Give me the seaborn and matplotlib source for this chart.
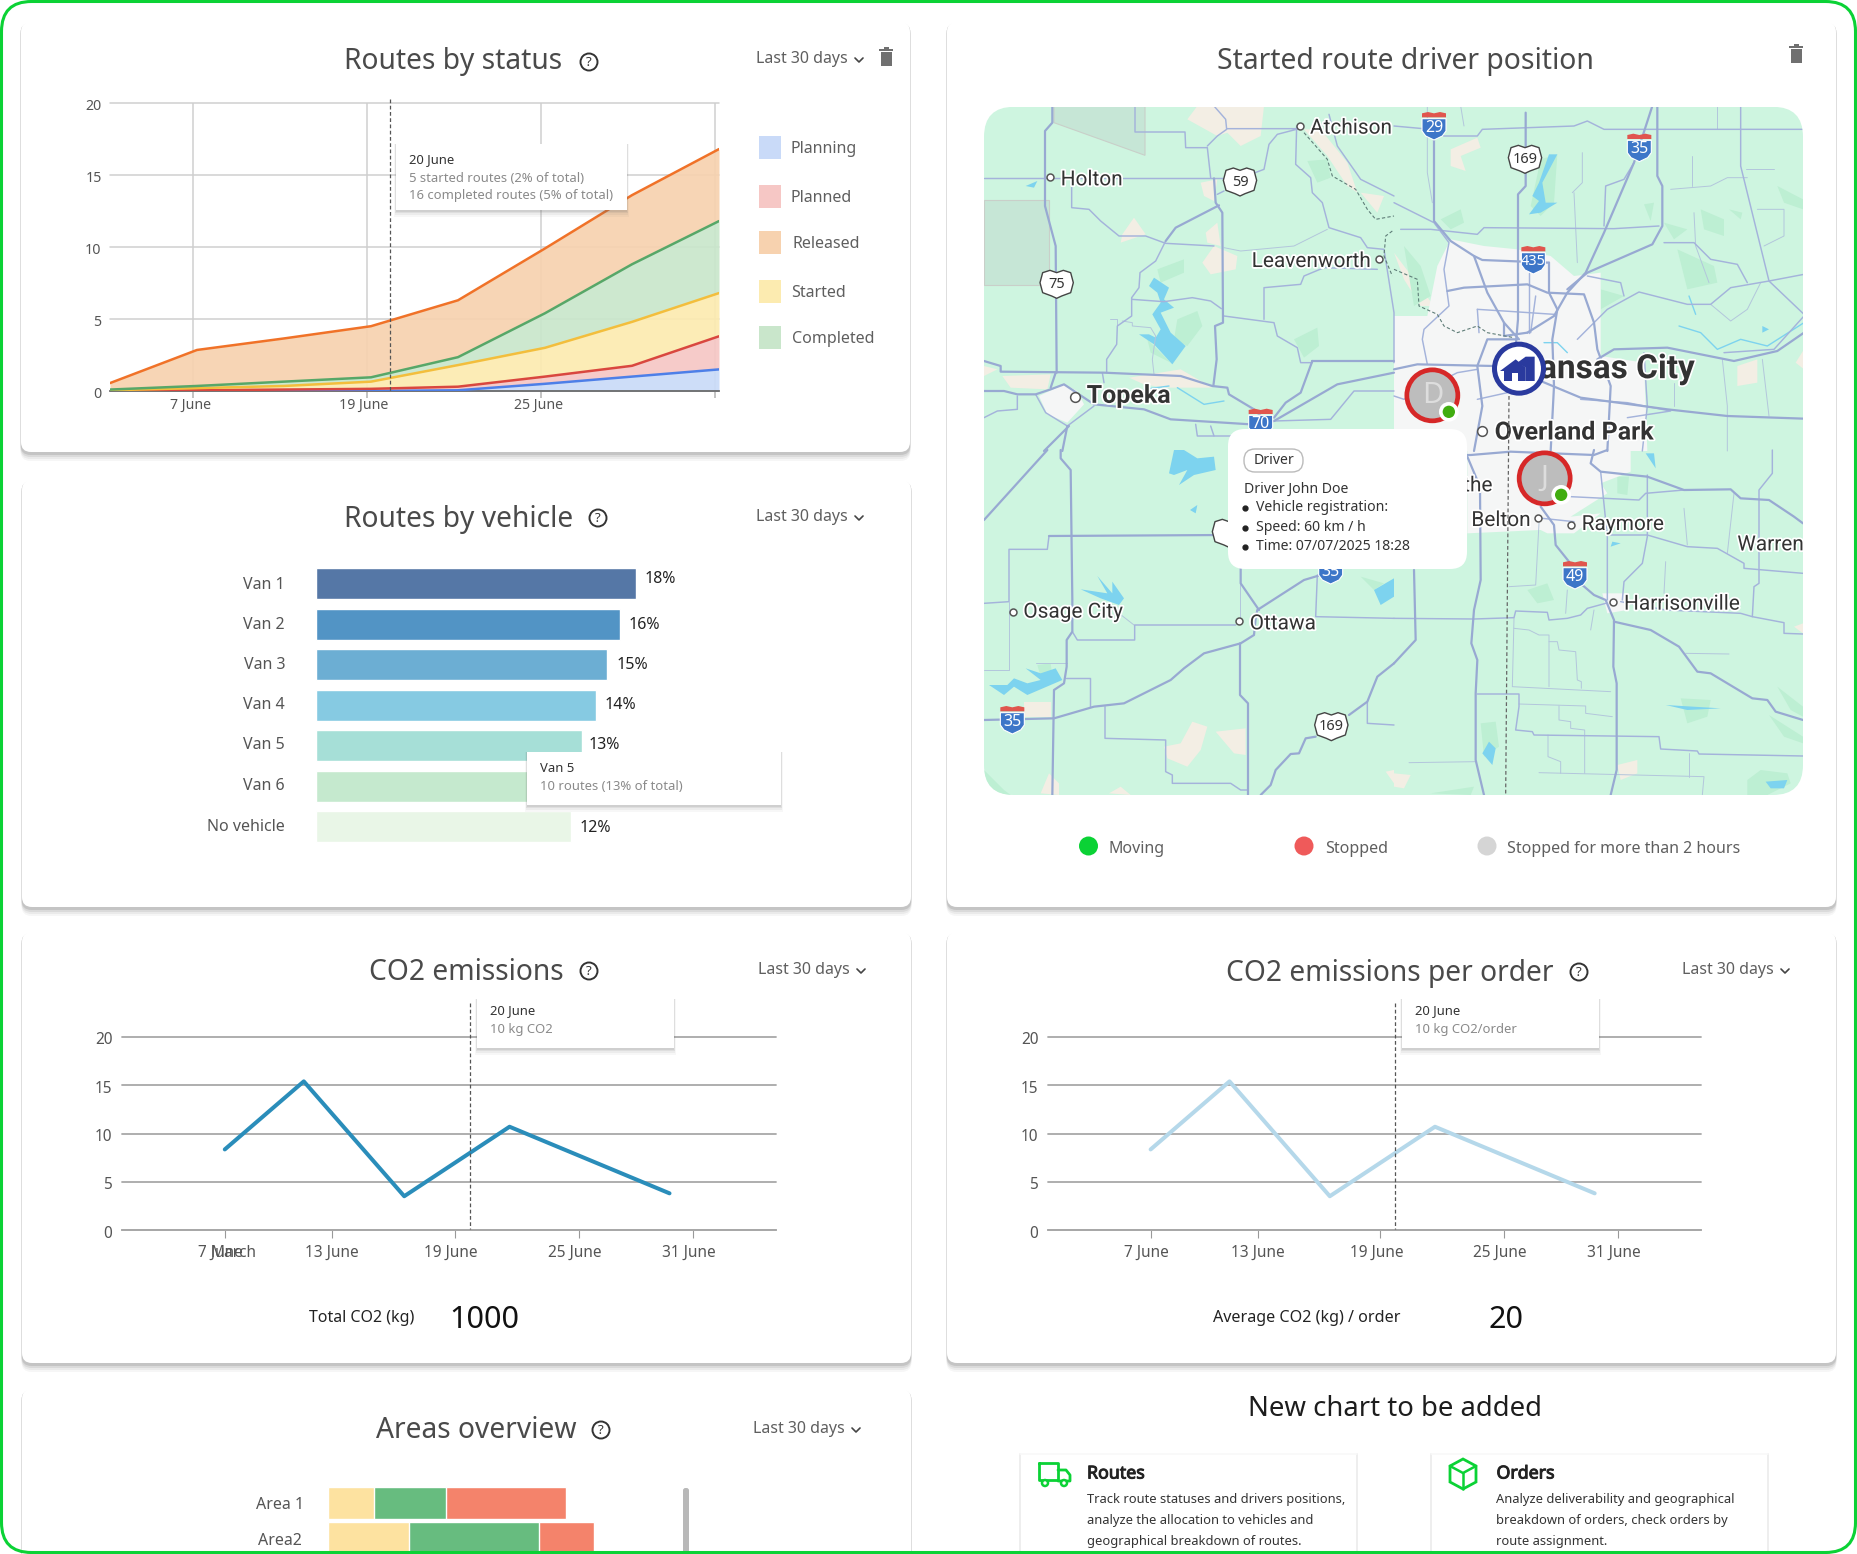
import matplotlib
matplotlib.use("Agg")
import matplotlib.pyplot as plt
import matplotlib.patheffects as pe
from matplotlib.patches import FancyBboxPatch, Circle, Polygon, Rectangle
from matplotlib.transforms import ScaledTranslation
import seaborn as sns

W, H = 1857, 1554

# ---------- data ----------
status_x = [0, 1, 2, 3, 4, 5, 6, 7]
status_ticks = [0.95, 2.95, 4.95, 6.95]
status_ticklabels = ["7 June", "19 June", "25 June", ""]
planning_top = [0, 0, 0, 0, 0.05, 0.5, 1.0, 1.5]
planned_top = [0, 0.05, 0.1, 0.15, 0.3, 1.0, 1.75, 3.8]
started_top = [0.05, 0.2, 0.35, 0.65, 1.8, 3.0, 4.8, 6.8]
completed_top = [0.1, 0.35, 0.65, 0.95, 2.35, 5.4, 8.8, 11.8]
released_top = [0.55, 2.85, 3.65, 4.5, 6.3, 9.9, 13.6, 16.8]
status_names = ["Planning", "Planned", "Released", "Started", "Completed"]

vehicles = ["Van 1", "Van 2", "Van 3", "Van 4", "Van 5", "Van 6", "No vehicle"]
vehicle_lengths = [18, 17.1, 16.4, 15.75, 15.0, 14.7, 14.35]
vehicle_labels = ["18%", "16%", "15%", "14%", "13%", "", "12%"]
vehicle_colors = ["#5577A6", "#5294C5", "#6CAED3", "#86CAE2", "#A6DFD7", "#C5E9CE", "#E9F6E7"]

co2_days = [7, 11.05, 16.2, 21.6, 29.8]
co2_values = [8.35, 15.4, 3.5, 10.7, 3.8]
co2_tick_days = [7, 12.5, 18.8, 25.15, 31]
co2_tick_labels = ["7 June", "13 June", "19 June", "25 June", "31 June"]

areas = ["Area 1", "Area2"]
area_yellow = [23, 40.5]
area_green = [36, 65]
area_red = [60, 27.5]

# ---------- map features, per quadrant of the map ----------
Q_ORIGIN = {1: (984, 106), 2: (1394, 106), 3: (984, 450), 4: (1394, 450)}
major_roads = {
    1: [[(205, 0), (205, 50), (183, 75), (183, 300), (215, 420), (218, 800)],
        [(690, 217), (695, 290), (715, 320), (717, 650), (693, 660), (698, 760), (688, 840)],
        [(545, 405), (575, 365), (705, 298)], [(985, 765), (1230, 765)], [(985, 765), (950, 860), (905, 890), (870, 935)],
        [(0, 765), (50, 780), (50, 797), (360, 800), (590, 810), (685, 840), (730, 845), (735, 865), (810, 910), (835, 935)],
        [(0, 855), (60, 855), (100, 865), (155, 865), (200, 850), (240, 835), (270, 855), (330, 895), (480, 910), (560, 940), (800, 955), (870, 945), (1060, 835), (1230, 800)],
        [(255, 960), (180, 1035)], [(215, 800), (200, 845)], [(250, 960), (235, 1035)]],
    2: [[(120, 90), (120, 345), (170, 405), (240, 450), (265, 462), (465, 470)], [(395, 20), (395, 240), (372, 265), (372, 640), (365, 720)],
        [(775, 0), (720, 170), (630, 380), (575, 500), (520, 560), (480, 630), (400, 680)],
        [(790, 0), (790, 210), (805, 240), (805, 360), (775, 415), (580, 500), (520, 550)],
        [(160, 555), (210, 545), (400, 535), (460, 560), (570, 565), (600, 650), (610, 730), (650, 840), (640, 1035)],
        [(240, 450), (280, 560), (330, 650), (375, 700)], [(465, 470), (465, 560), (490, 610), (475, 700), (480, 840), (470, 1035)],
        [(370, 700), (280, 700), (250, 780), (265, 900), (240, 1035)], [(330, 650), (330, 690), (400, 680)], [(0, 790), (70, 775), (300, 780)],
        [(440, 825), (560, 875), (820, 910), (1000, 930), (1230, 938)], [(610, 760), (660, 730), (820, 725), (1020, 765), (1150, 735), (1230, 680)]],
    3: [[(230, 0), (230, 25), (260, 60), (265, 450), (265, 545), (248, 570), (248, 650), (240, 700), (210, 720), (205, 1035)],
        [(190, 0), (0, 210)], [(195, 258), (720, 255)],
        [(0, 810), (210, 805), (330, 770), (420, 760), (560, 690), (600, 655), (660, 610), (770, 580), (810, 555), (815, 505), (820, 480), (960, 390), (1010, 375)],
        [(770, 350), (770, 400), (825, 480)], [(768, 580), (768, 735), (792, 760), (792, 1035)],
        [(1230, 640), (1180, 680), (1150, 755), (1095, 795)], [(995, 860), (965, 865), (945, 910), (920, 912), (875, 960), (860, 1005), (830, 1035)]],
    4: [[(220, 20), (258, 110), (260, 390), (240, 480), (232, 580), (250, 630), (245, 730), (245, 930), (270, 1035)],
        [(60, 360), (65, 570), (0, 640)], [(600, 0), (590, 40), (620, 65), (760, 80), (870, 120), (1010, 118), (1040, 145), (1125, 150), (1200, 200), (1227, 220)],
        [(0, 15), (230, 15), (350, 5), (600, 15), (640, 0)], [(440, 170), (480, 225), (485, 285), (525, 335)],
        [(565, 405), (600, 435), (635, 450), (660, 510), (658, 650), (668, 700), (668, 960), (650, 1035)],
        [(660, 515), (770, 540), (855, 590), (910, 665), (950, 670), (1075, 745), (1120, 750), (1145, 785), (1227, 810)]],
}
minor_roads = {
    1: [[(0, 217), (720, 217)], [(263, 220), (263, 305), (315, 310), (350, 345), (405, 390), (485, 390), (545, 412), (690, 420)],
        [(453, 0), (453, 78), (603, 78), (605, 125), (670, 125), (680, 215)], [(690, 0), (725, 40), (728, 70), (700, 90), (670, 120)],
        [(730, 68), (945, 68), (880, 85), (855, 115), (840, 190), (800, 205)], [(700, 265), (720, 255)],
        [(545, 405), (515, 465), (468, 500), (465, 545), (443, 575), (443, 630), (400, 660), (398, 715), (368, 760), (368, 800)],
        [(443, 580), (540, 587), (625, 575), (680, 585), (712, 608)], [(720, 630), (870, 650), (880, 690), (940, 725), (950, 770), (985, 770)],
        [(840, 640), (840, 545), (950, 535), (960, 510), (1020, 485), (1180, 490)],
        [(938, 60), (935, 175), (980, 215), (985, 260), (1015, 290), (1035, 365), (1130, 395), (1150, 425), (1200, 430), (1230, 620), (1230, 770)],
        [(870, 945), (1040, 940), (1110, 855), (1230, 855)], [(155, 865), (185, 920), (250, 960), (330, 900)],
        [(100, 870), (100, 910), (40, 915), (0, 935)], [(635, 955), (640, 990), (750, 990)], [(690, 990), (680, 960)], [(355, 800), (360, 830)],
        [(1035, 25), (1060, 120), (1130, 220), (1230, 270)]],
    2: [[(0, 60), (110, 70), (150, 90), (250, 90), (265, 70), (540, 60), (580, 45), (630, 70), (1230, 70)],
        [(0, 290), (120, 350), (165, 410), (150, 490), (165, 600), (90, 670), (85, 700), (100, 775)],
        [(20, 370), (110, 370), (250, 385), (270, 365), (660, 368), (795, 360)], [(405, 500), (405, 680)], [(425, 570), (410, 680)],
        [(250, 610), (330, 615), (480, 625)], [(250, 610), (255, 680)], [(990, 740), (1140, 730), (1230, 630)],
        [(550, 700), (640, 610), (735, 558), (880, 595), (950, 595), (1010, 545), (1125, 525), (1230, 505)],
        [(1040, 0), (1040, 180), (1125, 525), (1230, 625)], [(810, 410), (900, 410), (950, 460), (1030, 475), (1060, 530)],
        [(580, 510), (680, 530), (690, 570)], [(560, 880), (700, 890), (830, 915), (700, 935)], [(750, 740), (760, 900), (745, 1035)],
        [(250, 880), (340, 860), (440, 830)], [(0, 870), (30, 880), (190, 800), (250, 790)], [(630, 360), (635, 240), (690, 220), (720, 170)]],
    3: [[(195, 258), (190, 298), (75, 298), (75, 455), (0, 460)], [(265, 545), (280, 570), (452, 570), (452, 525), (755, 525)],
        [(1000, 375), (995, 500), (1230, 505)], [(1150, 755), (1150, 820), (1230, 825)],
        [(363, 770), (363, 865), (545, 870), (545, 965), (565, 975), (565, 1000), (740, 1000), (770, 1020), (790, 1020)],
        [(245, 685), (318, 685), (318, 770)]],
    4: [[(620, 65), (640, 260), (640, 450)], [(530, 140), (735, 150), (755, 130), (870, 120)], [(760, 75), (760, 260), (745, 340), (690, 395), (685, 450)],
        [(640, 255), (760, 255), (880, 290), (970, 295), (1050, 340), (1050, 355), (1227, 370)], [(445, 205), (540, 215)],
        [(0, 505), (240, 507), (360, 503), (365, 483), (460, 487), (465, 510), (520, 505), (560, 495), (580, 475), (635, 460)],
        [(680, 455), (815, 480), (1040, 490), (1075, 500), (1170, 518), (1170, 550), (1227, 552)],
        [(1075, 500), (1080, 410), (1095, 400), (1095, 120), (1135, 70), (1135, 0)],
        [(250, 732), (375, 732), (375, 770), (365, 840), (415, 845), (420, 855), (795, 860), (800, 897), (910, 903), (915, 912), (1227, 918)]],
}
thin_roads = {
    1: [[(720, 425), (770, 435), (930, 420), (1030, 370)], [(378, 640), (400, 640), (400, 660)],
        [(415, 645), (445, 650), (445, 660), (500, 665), (515, 690), (505, 760), (510, 805)]],
    2: [[(895, 150), (895, 240)], [(900, 320), (905, 420), (945, 530)], [(1090, 310), (1170, 310), (1170, 390), (1110, 420)],
        [(535, 260), (565, 230), (565, 140)], [(540, 260), (550, 470)], [(100, 0), (100, 200), (115, 290)], [(1105, 760), (1125, 930)],
        [(840, 830), (840, 900)], [(985, 760), (1000, 900), (1000, 1035)], [(950, 595), (1010, 645), (1060, 610), (1100, 530)],
        [(1055, 190), (1140, 190)], [(830, 250), (950, 240), (1000, 215), (1060, 215)], [(200, 0), (210, 60)], [(970, 0), (970, 70)]],
    3: [[(75, 455), (75, 660), (0, 660)], [(155, 640), (250, 640)], [(405, 490), (450, 525)], [(768, 350), (768, 510)]],
    4: [[(360, 505), (355, 710), (650, 725)], [(360, 535), (405, 540), (435, 555), (465, 555), (465, 710)],
        [(465, 575), (490, 575), (495, 600), (545, 605), (550, 690), (562, 695), (562, 715)], [(375, 762), (575, 768), (575, 790), (655, 800)],
        [(495, 768), (495, 810), (530, 815), (530, 835), (572, 840), (572, 970)], [(462, 855), (462, 920), (500, 935), (500, 970)],
        [(435, 968), (930, 980), (925, 1035)], [(45, 938), (245, 935)], [(885, 910), (885, 980)], [(345, 410), (425, 405), (435, 220)],
        [(515, 490), (520, 420)], [(590, 540), (600, 480)], [(815, 335), (810, 430)], [(870, 175), (880, 285)], [(1000, 310), (1020, 130)], [(875, 610), (1005, 612)]],
}
land_gray = {1: [[(210, 0), (483, 0), (483, 148), (210, 50)], [(0, 283), (195, 283), (195, 538), (0, 538)]]}
city_patches = {
    1: [[(165, 870), (240, 835), (280, 855), (300, 895), (250, 950), (190, 925)]],
    2: [[(0, 630), (100, 630), (130, 480), (170, 400), (270, 420), (370, 430), (470, 450), (540, 510), (620, 500), (620, 750), (750, 770), (760, 1035), (0, 1035)]],
    4: [[(0, 0), (710, 0), (710, 65), (620, 100), (640, 130), (530, 200), (620, 190), (540, 250), (460, 250), (440, 240), (220, 250), (220, 0)],
        [(625, 430), (700, 430), (700, 480), (640, 490)]],
}
beige_patches = {
    1: [[(610, 40), (640, 0), (840, 0), (830, 90), (770, 120), (730, 80), (700, 90)], [(650, 230), (700, 220), (690, 285), (660, 270)],
        [(415, 385), (450, 335), (485, 385), (410, 410)], [(665, 380), (700, 350), (710, 420), (670, 410)],
        [(655, 470), (690, 420), (760, 450), (755, 490), (680, 505)], [(55, 810), (200, 805), (190, 850), (80, 845)],
        [(435, 815), (590, 790), (685, 845), (540, 845), (480, 835)], [(0, 780), (40, 790), (0, 810)],
        [(960, 70), (1010, 70), (1090, 170), (1120, 260), (1090, 240), (1030, 150)], [(1130, 260), (1200, 270), (1180, 320)]],
    2: [[(170, 130), (250, 95), (260, 125), (200, 150), (215, 195), (170, 180)], [(0, 440), (60, 520), (120, 600), (80, 600), (30, 520)],
        [(1030, 780), (1090, 760), (1090, 830), (1030, 840)], [(1205, 770), (1230, 730), (1230, 790)]],
    3: [[(120, 755), (200, 755), (200, 800), (120, 800)], [(540, 890), (590, 880), (625, 815), (670, 830), (650, 900), (610, 950), (550, 925)],
        [(695, 845), (785, 835), (785, 915), (750, 910)], [(170, 1030), (195, 970), (225, 1000), (225, 1035)],
        [(375, 1030), (410, 1010), (440, 1035)], [(1205, 965), (1230, 960), (1230, 1000)]],
    4: [[(670, 945), (730, 930), (730, 970), (680, 990)], [(0, 970), (50, 975), (30, 1015), (0, 1010)], [(1200, 530), (1227, 520), (1227, 550)]],
}
green_patches = {
    1: [[(520, 490), (600, 460), (600, 500), (530, 530)], [(580, 640), (640, 615), (655, 660), (610, 720), (570, 700)], [(490, 700), (560, 770), (500, 740)],
        [(930, 700), (1000, 665), (1005, 720), (960, 755)], [(970, 165), (1030, 160), (1040, 215), (1000, 230)]],
    2: [[(140, 340), (200, 310), (210, 350), (170, 370)], [(410, 300), (440, 160), (490, 145), (480, 290), (440, 330)], [(850, 430), (960, 480), (970, 530), (880, 550)],
        [(920, 310), (990, 340), (990, 390), (930, 370)], [(1005, 310), (1045, 320), (1040, 340)], [(750, 295), (780, 290), (770, 345)], [(620, 550), (690, 570), (620, 610)],
        [(810, 350), (880, 370), (840, 400)], [(30, 420), (80, 480), (110, 570), (60, 600)], [(670, 920), (720, 950), (700, 1000)], [(1150, 240), (1227, 280), (1227, 310), (1170, 290)]],
    3: [[(1130, 380), (1200, 400), (1170, 420)], [(160, 645), (200, 640), (205, 680), (170, 680)], [(0, 960), (60, 1020), (80, 1035), (0, 1035)]],
    4: [[(670, 80), (705, 80), (700, 135), (670, 130)], [(400, 420), (460, 400), (480, 450), (430, 460)], [(860, 745), (950, 750), (940, 800), (880, 820)],
        [(260, 820), (305, 815), (315, 890), (270, 920)], [(1150, 710), (1227, 770), (1227, 800), (1190, 780)], [(1125, 795), (1227, 860), (1227, 880), (1170, 860)],
        [(1060, 990), (1100, 960), (1180, 970), (1190, 1000), (1120, 1035), (1060, 1035)], [(110, 1030), (240, 1010), (230, 1035)]],
}
water_patches = {
    1: [[(510, 515), (555, 545), (540, 580), (570, 605), (530, 620), (560, 680), (605, 720), (565, 775), (510, 715), (465, 685), (495, 685), (515, 695), (530, 670), (505, 625), (530, 590), (520, 560), (495, 540)],
        [(125, 240), (160, 225), (150, 245)]],
    2: [[(465, 145), (490, 145), (445, 230), (455, 290), (490, 290), (440, 320), (405, 325), (435, 285), (415, 270), (435, 230)], [(1105, 660), (1125, 670), (1105, 680)]],
    3: [[(570, 0), (600, 0), (640, 25), (690, 20), (695, 60), (630, 75), (585, 105), (610, 60), (570, 75), (555, 70)],
        [(290, 418), (370, 430), (340, 378), (385, 430), (385, 395), (420, 445), (405, 465), (350, 445)],
        [(15, 705), (70, 705), (90, 685), (130, 700), (170, 690), (125, 655), (170, 670), (215, 655), (235, 690), (130, 735), (90, 710), (60, 735)],
        [(618, 180), (640, 165), (635, 190)], [(1170, 420), (1230, 385), (1230, 440), (1190, 465)]],
    4: [[(755, 10), (780, 10), (785, 55)], [(655, 275), (680, 280), (650, 290)], [(815, 765), (980, 775), (880, 780)],
        [(265, 910), (285, 875), (305, 895), (295, 945)], [(1115, 995), (1180, 990), (1170, 1015), (1130, 1015)], [(975, 485), (985, 515)]],
}
rivers = {
    1: [[(580, 845), (660, 895), (720, 885)], [(480, 850), (555, 840)]],
    2: [[(855, 660), (920, 680), (970, 730), (1040, 700), (1120, 720), (1230, 650)], [(885, 570), (905, 625)], [(450, 710), (490, 710), (520, 740)]],
}
state_line = {
    1: [[(960, 80), (1030, 160), (1045, 210), (1115, 250), (1150, 310), (1175, 340), (1230, 330)], [(1225, 375), (1205, 390), (1200, 450), (1225, 510)]],
    2: [[(0, 490), (70, 520), (75, 600), (130, 625), (150, 660), (190, 680), (250, 660), (280, 680), (360, 695)]],
}
map_labels = [
    (1, "Atchison", 978, 62, 15, "normal", "left"), (1, "Holton", 230, 217, 15, "normal", "left"), (1, "Leavenworth", 803, 462, 15, "normal", "left"),
    (1, "Topeka", 308, 865, 18, "bold", "left"), (2, "Kansas City", 902, 785, 24, "bold", "right"), (2, "Overland Park", 302, 975, 18, "bold", "left"),
    (4, "Olathe", 296, 103, 15, "normal", "right"), (4, "Belton", 232, 207, 15, "normal", "left"), (4, "Raymore", 563, 219, 15, "normal", "left"),
    (4, "Harrisonville", 690, 458, 15, "normal", "left"), (4, "Warrensburg", 1030, 280, 15, "normal", "left"), (3, "Osage City", 118, 482, 15, "normal", "left"),
    (3, "Ottawa", 797, 517, 15, "normal", "left"),
]
map_dots = [(1, 947, 60, 5), (1, 198, 213, 5), (1, 1184, 458, 5), (1, 272, 872, 7), (2, 265, 975, 7), (4, 432, 204, 5), (4, 532, 224, 5),
            (4, 658, 456, 5), (3, 87, 486, 5), (3, 766, 514, 5)]
interstates = [(2, "29", 120, 60), (2, "35", 736, 125), (2, "435", 418, 462), (1, "70", 830, 950), (3, "35", 85, 810), (3, "35", 1040, 360), (4, "49", 543, 375)]
us_routes = [(2, "169", 393, 160), (1, "59", 768, 228), (1, "75", 218, 535), (3, "169", 1042, 830), (3, "", 735, 250)]


def q(n, x, y):
    ox, oy = Q_ORIGIN[n]
    return ox + x / 3, oy + y / 3


# ---------- setup ----------
sns.set_theme(style="white")
plt.rcParams["font.family"] = ["Noto Sans", "DejaVu Sans"]
fig = plt.figure(figsize=(W / 100, H / 100), dpi=100, facecolor="white")


def px_axes(x0, y0, x1, y1, z=2):
    ax = fig.add_axes([x0 / W, 1 - y1 / H, (x1 - x0) / W, (y1 - y0) / H], zorder=z)
    ax.patch.set_alpha(0)
    return ax


bg = px_axes(0, 0, W, H, 0)
bg.set_xlim(0, W); bg.set_ylim(H, 0); bg.axis("off")
top = px_axes(0, 0, W, H, 10)
top.set_xlim(0, W); top.set_ylim(H, 0); top.axis("off")


def rrect(ax, x0, y0, x1, y1, r, **kw):
    p = FancyBboxPatch((x0 + r, y0 + r), x1 - x0 - 2 * r, y1 - y0 - 2 * r, boxstyle=f"round,pad={r},rounding_size={r}", **kw)
    ax.add_patch(p)
    return p


def card(x0, y0, x1, y1):
    for i, a in zip([9, 7, 5, 3], [0.05, 0.07, 0.10, 0.16]):
        rrect(bg, x0 - 0.5, y0 + 1, x1 + 0.5, y1 + i, 10, fc="#555555", ec="none", alpha=a)
    rrect(bg, x0, y0, x1, y1, 10, fc="white", ec="none")


def tooltip(x0, y0, x1, y1, head, lines, h0=15, l0=33):
    for i, a in zip([7, 5, 3, 1.5], [0.05, 0.07, 0.1, 0.12]):
        top.add_patch(Rectangle((x0 - i / 4, y0), x1 - x0 + i / 2, y1 - y0 + i, fc="#666666", ec="none", alpha=a, zorder=4))
    top.add_patch(Rectangle((x0, y0), x1 - x0, y1 - y0, fc="white", ec="none", zorder=4))
    top.text(x0 + 13, y0 + h0 + 1, head, fontsize=9.4, color="#333333", va="center", zorder=5)
    for k, t in enumerate(lines):
        top.text(x0 + 13, y0 + l0 + 1 + 18 * k, t, fontsize=9.4, color="#8a8a8a", va="center", zorder=5)


def help_icon(x, y):
    top.add_patch(Circle((x, y), 8.5, fc="white", ec="#333333", lw=1.4))
    top.text(x, y + 0.3, "?", ha="center", va="center", fontsize=9.5, color="#333333")


def period(x, y):
    top.text(x, y + 1, "Last 30 days", fontsize=11.5, color="#5f5f5f", va="center")
    cx = x + 103
    top.plot([cx - 4, cx, cx + 4], [y, y + 4, y], color="#444444", lw=1.2)


def trash(x, y):
    top.add_patch(Rectangle((x - 5.5, y - 5), 11, 14, fc="#707070", ec="none"))
    top.add_patch(Rectangle((x - 7, y - 8), 14, 2, fc="#707070", ec="none"))
    top.add_patch(Rectangle((x - 2.5, y - 10), 5, 2, fc="#707070", ec="none"))


def title(x, y, s):
    top.text(x, y, s, fontsize=20.3, color="#4a4a4a", ha="center", va="center")


def shift_xlabels(a, dx_px, skip=()):
    tr = ScaledTranslation(dx_px / 100, 0, fig.dpi_scale_trans)
    for i, lab in enumerate(a.get_xticklabels()):
        if i not in skip:
            lab.set_transform(lab.get_transform() + tr)


def shift_ylabels(a, dy_px):
    tr = ScaledTranslation(0, -dy_px / 100, fig.dpi_scale_trans)
    for lab in a.get_yticklabels():
        lab.set_transform(lab.get_transform() + tr)


card(21, 22, 910, 452)
card(22, 480, 911, 907)
card(22, 932, 911, 1363)
card(22, 1389, 911, 1600)
card(947, 22, 1836, 907)
card(947, 932, 1836, 1363)
for x in [1020, 1357, 1431, 1768]:
    bg.plot([x, x], [1454, 1554], color="#eeeeee", lw=1.4)
for x0, x1 in [(1020, 1357), (1431, 1768)]:
    bg.plot([x0, x1], [1454, 1454], color="#f8f8f8", lw=1.2)

# ---------- Routes by status ----------
ax = px_axes(110, 103, 719, 391)
ax.set_xlim(0, 7); ax.set_ylim(0, 20)
layers = [([0] * 8, planning_top, "#C9DAF8", "#4D7FE8"), (planning_top, planned_top, "#F6C7C5", "#D9473F"),
          (planned_top, started_top, "#FCEBB0", "#F3BE3C"), (started_top, completed_top, "#C9E6CB", "#57A768"),
          (completed_top, released_top, "#F7D2AF", "#F07228")]
ax.set_yticks([0, 5, 10, 15, 20])
ax.set_xticks(status_ticks, status_ticklabels)
ax.grid(True, color="#cfcfcf", lw=1.1)
ax.set_axisbelow(True)
for lo, hi, fc, _ in layers:
    ax.fill_between(status_x, lo, hi, color=fc, lw=0, alpha=0.92, zorder=2)
for _, hi, _, lc in layers:
    sns.lineplot(x=status_x, y=hi, ax=ax, color=lc, linewidth=1.8, errorbar=None, zorder=3)
sns.despine(ax=ax, left=True, bottom=False)
ax.spines["bottom"].set_color("#666666")
ax.tick_params(axis="y", labelsize=10.2, labelcolor="#555555", length=0, pad=6)
ax.tick_params(axis="x", labelsize=10.2, labelcolor="#555555", pad=0, length=5, color="#bbbbbb", bottom=True)
shift_xlabels(ax, -2.5)
shift_ylabels(ax, 2)
for gl in ax.get_ygridlines():
    gl.set_clip_on(False)
title(453.5, 61, "Routes by status"); help_icon(589, 62); period(756, 58); trash(886, 57)
top.plot([390, 390], [99, 391], color="#555555", lw=0.9, ls=(0, (3, 2)))
tooltip(396, 144, 627, 210, "20 June", ["5 started routes (2% of total)", "16 completed routes (5% of total)"])
sw_cols = ["#C9DAF8", "#F6C7C5", "#F7D2AF", "#FCEBB0", "#C9E6CB"]
sw_y = [136, 185, 231, 280, 326]
tx_y = [149, 198, 244, 293, 339]
tx_x = [790, 790, 792, 791, 792]
for n, c, y, ty, tx in zip(status_names, sw_cols, sw_y, tx_y, tx_x):
    top.add_patch(Rectangle((759, y), 22, 23, fc=c, ec="none"))
    top.text(tx, ty, n, fontsize=11.5, color="#5f5f5f", va="center")

# ---------- Routes by vehicle ----------
ax = px_axes(315.5, 563.5, 635.5, 847)
sns.barplot(x=vehicle_lengths, y=vehicles, hue=vehicles, palette=vehicle_colors, legend=False, ax=ax, width=0.765, orient="h", saturation=1)
ax.set_xlim(0, 18); ax.set_ylim(6.5, -0.5)
ax.set_xticks([]); ax.set_yticks([])
ax.set_xlabel(""); ax.set_ylabel("")
sns.despine(ax=ax, left=True, bottom=True)
veh_y = [585, 625, 665, 705, 745, 786, 827]
for n, y in zip(vehicles, veh_y):
    top.text(285, y, n, ha="right", va="center", fontsize=11.5, color="#555555")
for lab, x, y in zip(vehicle_labels, [645, 629, 617, 605, 589, 0, 580], [579, 625, 665, 705, 745, 0, 828]):
    if lab:
        top.text(x, y, lab, va="center", fontsize=11.5, color="#222222")
title(459, 519, "Routes by vehicle"); help_icon(598, 518); period(756, 516)
tooltip(527, 752, 781, 805, "Van 5", ["10 routes (13% of total)"], 16, 34)


# ---------- CO2 charts ----------
def co2_chart(x0, x1, color, lw):
    a = px_axes(x0, 1037, x1, 1230)
    sns.lineplot(x=co2_days, y=co2_values, ax=a, color=color, linewidth=lw, errorbar=None, zorder=3)
    a.set_xlim(1.73, 35.26); a.set_ylim(0, 20)
    a.set_yticks([0, 5, 10, 15, 20])
    a.set_xticks(co2_tick_days, co2_tick_labels)
    a.grid(True, axis="y", color="#a8a8a8", lw=1.3)
    a.set_axisbelow(True)
    sns.despine(ax=a, left=True)
    a.spines["bottom"].set_color("#a8a8a8")
    a.spines["bottom"].set_linewidth(1.3)
    a.tick_params(axis="y", labelsize=11.1, labelcolor="#555555", length=0, pad=7)
    a.tick_params(axis="x", labelsize=11.1, labelcolor="#555555", length=6, width=0.8, color="#999999", pad=5, bottom=True)
    shift_xlabels(a, -4, skip=(1,))
    shift_ylabels(a, 1.5)
    for gl in a.get_ygridlines():
        gl.set_clip_on(False)
    return a


co2_chart(122, 776, "#2A8DBA", 2.9)
co2_chart(1048, 1701, "#B5D8EA", 2.9)
top.text(234, 1253, "March", ha="center", va="center", fontsize=11.1, color="#555555")
title(466, 972, "CO2 emissions"); help_icon(589, 971); period(758, 969)
title(1390, 973, "CO2 emissions per order"); help_icon(1579, 972); period(1682, 969)
top.plot([470, 470], [1003, 1229], color="#555555", lw=0.9, ls=(0, (3, 2)))
top.plot([1395, 1395], [1003, 1229], color="#555555", lw=0.9, ls=(0, (3, 2)))
tooltip(477, 999, 674, 1048, "20 June", ["10 kg CO2"], 11, 30)
tooltip(1402, 999, 1599, 1048, "20 June", ["10 kg CO2/order"], 11, 30)
top.text(362, 1318, "Total CO2 (kg)", ha="center", va="center", fontsize=11.5, color="#222222")
top.text(484, 1320, "1000", ha="center", va="center", fontsize=22, color="#111111")
top.text(1307, 1318, "Average CO2 (kg) / order", ha="center", va="center", fontsize=11.6, color="#222222")
top.text(1506.5, 1320, "20", ha="center", va="center", fontsize=22, color="#111111")

# ---------- Areas overview ----------
ax = px_axes(327.5, 1485.5, 597.5, 1555.5)
cum_green = [a + b for a, b in zip(area_yellow, area_green)]
cum_red = [a + b for a, b in zip(cum_green, area_red)]
for vals, col in zip([cum_red, cum_green, area_yellow], ["#F4836B", "#67BC7F", "#FDE2A0"]):
    sns.barplot(x=vals, y=areas, color=col, ax=ax, width=0.886, orient="h", saturation=1)
ax.set_xlim(0, 135); ax.set_ylim(1.5, -0.5)
ax.set_xticks([]); ax.set_yticks([]); ax.set_xlabel(""); ax.set_ylabel("")
sns.despine(ax=ax, left=True, bottom=True)
top.text(304, 1505, "Area 1", ha="right", va="center", fontsize=11.5, color="#555555")
top.text(302, 1541, "Area2", ha="right", va="center", fontsize=11.5, color="#555555")
rrect(top, 683, 1488, 689, 1600, 2.5, fc="#B8B8B8", ec="none")
title(476.5, 1431, "Areas overview"); help_icon(601, 1430); period(753, 1428)

# ---------- New chart to be added ----------
top.text(1395, 1409, "New chart to be added", ha="center", va="center", fontsize=19.8, color="#1d1d1d")
fake_bold = [pe.withStroke(linewidth=0.7, foreground="#222222")]
top.text(1087, 1473.5, "Routes", va="center", fontsize=12.8, color="#222222", path_effects=fake_bold)
top.text(1496.5, 1473.5, "Orders", va="center", fontsize=12.8, color="#222222", path_effects=fake_bold)
for y, a, b in zip([1499.5, 1520.5, 1541.5],
                   ["Track route statuses and drivers positions,", "analyze the allocation to vehicles and", "geographical breakdown of routes."],
                   ["Analyze deliverability and geographical", "breakdown of orders, check orders by", "route assignment."]):
    top.text(1087, y, a, va="center", fontsize=9.3, color="#333333")
    top.text(1496.5, y, b, va="center", fontsize=9.3, color="#333333")
G = "#0BD235"
top.plot([1039, 1039, 1058, 1058, 1039], [1463, 1480, 1480, 1463, 1463], color=G, lw=2)
top.plot([1058, 1066, 1070, 1070, 1058], [1470, 1470, 1475, 1481, 1481], color=G, lw=2)
top.add_patch(Circle((1045, 1483), 3, fc="white", ec=G, lw=1.8, zorder=3))
top.add_patch(Circle((1064, 1483), 3, fc="white", ec=G, lw=1.8, zorder=3))
top.add_patch(Polygon([(1463, 1459), (1476, 1466), (1476, 1482), (1463, 1489), (1450, 1482), (1450, 1466)], fc="white", ec=G, lw=2))
top.plot([1450, 1463, 1476], [1466, 1473, 1466], color=G, lw=1.8)
top.plot([1463, 1463], [1473, 1489], color=G, lw=1.8)

# ---------- Map card ----------
top.text(1405, 62, "Started route driver position", fontsize=20.4, color="#4a4a4a", ha="center", va="center")
trash(1796, 54)
m = px_axes(984, 106.8, 1803, 795, 3)
m.set_xlim(984, 1803); m.set_ylim(795, 106.8); m.axis("off")
m.add_patch(Rectangle((984, 106), 819, 690, fc="#CEF5E0", ec="none", zorder=0))


def polys(d, z, **kw):
    for n, lst in d.items():
        for poly in lst:
            m.add_patch(Polygon([q(n, x, y) for x, y in poly], zorder=z, **kw))


def lines(d, z, **kw):
    for n, lst in d.items():
        for ln in lst:
            pts = [q(n, x, y) for x, y in ln]
            m.plot([p[0] for p in pts], [p[1] for p in pts], zorder=z, solid_joinstyle="round", **kw)


polys(beige_patches, 0.2, fc="#F3EEE4", ec="none")
polys(land_gray, 0.2, fc="#C6E6D6", ec="#C9CFC9", lw=0.8)
polys(green_patches, 0.3, fc="#BDEFD3", ec="none")
polys(city_patches, 0.4, fc="#F5F6F6", ec="none")
polys(water_patches, 0.5, fc="#7DD3EF", ec="none")
lines(rivers, 0.6, color="#7DD3EF", lw=1.0)
lines(thin_roads, 1, color="#B3C6DC", lw=0.7)
lines(minor_roads, 1.1, color="#A4B3DB", lw=1.05)
lines(major_roads, 1.2, color="#98A9D2", lw=1.6)
for n, lst in state_line.items():
    for ln in lst:
        pts = [q(n, x, y) for x, y in ln]
        m.plot([p[0] for p in pts], [p[1] for p in pts], color="#5f7d78", lw=0.8, ls=(0, (3, 2)), zorder=1.3)
for n, s, x, y, fs, wt, ha in map_labels:
    px, py = q(n, x, y)
    m.text(px, py + 1.5, s, family=["Roboto", "DejaVu Sans"], fontsize=fs, fontweight=wt, ha=ha, color="#333333", va="center", clip_on=True, zorder=3,
           path_effects=[pe.withStroke(linewidth=2.5, foreground="white")])
for n, x, y, ms in map_dots:
    px, py = q(n, x, y)
    m.plot([px], [py], "o", ms=ms, mfc="white", mec="#555555", mew=1.1, zorder=3)
for n, s, x, y in interstates:
    body = [(-36, -22), (36, -22), (36, 15), (25, 30), (0, 42), (-25, 30), (-36, 15)]
    crown = [(-36, -26), (-36, -38), (-18, -42), (0, -38), (18, -42), (36, -38), (36, -26)]
    m.add_patch(Polygon([q(n, x + a, y + b) for a, b in body], fc="#3D76C8", ec="white", lw=0.8, zorder=3.2))
    m.add_patch(Polygon([q(n, x + a, y + b) for a, b in crown], fc="#E0564E", ec="none", zorder=3.2))
    px, py = q(n, x, y + 5)
    m.text(px, py, s, fontsize=11.5 if len(s) < 3 else 10.5, fontweight="bold", color="white", ha="center", va="center", zorder=3.3)
for n, s, x, y in us_routes:
    shape = [(-42, -35), (-20, -42), (0, -35), (20, -42), (42, -35), (50, -5), (42, 25), (15, 35), (0, 42), (-15, 35), (-42, 25), (-50, -5)]
    m.add_patch(Polygon([q(n, x + a, y + b) for a, b in shape], fc="white", ec="#444444", lw=1, joinstyle="round", zorder=3.2))
    px, py = q(n, x, y)
    m.text(px, py, s, fontsize=10.5, color="#333333", ha="center", va="center", zorder=3.3)
a0 = q(2, 345, 870); a1 = q(4, 335, 1035)
m.plot([a0[0], a1[0]], [a0[1], a1[1]], color="#666666", lw=0.9, ls=(0, (3, 2)), zorder=3.5)
for n, letter, x, y in [(2, "D", 115, 868), (4, "J", 452, 85)]:
    cx, cy = q(n, x, y)
    m.add_patch(Circle((cx, cy), 25.5, fc="#BDBDBD", ec="#D62828", lw=3.4, zorder=4))
    m.text(cx, cy, letter, fontsize=21, color="#DDDDDD", ha="center", va="center", zorder=4.1)
    m.add_patch(Circle((cx + 16.5, cy + 16.5), 8, fc="#41AD10", ec="white", lw=2.6, zorder=4.2))
hx, hy = q(2, 375, 788)
m.add_patch(Circle((hx, hy), 24.5, fc="white", ec="#2A3A9E", lw=3.6, zorder=4))
m.add_patch(Polygon([q(2, *p) for p in [(330, 825), (330, 795), (318, 795), (365, 760), (395, 785), (395, 825)]], fc="#2A3A9E", ec="none", zorder=4.1))
m.add_patch(Polygon([q(2, *p) for p in [(370, 770), (395, 752), (422, 752), (422, 825), (395, 825), (395, 785)]], fc="#2A3A9E", ec="none", zorder=4.1))
m.add_patch(Polygon([q(2, *p) for p in [(355, 800), (372, 800), (372, 825), (355, 825)]], fc="white", ec="none", zorder=4.2))
rrect(m, 1228, 429, 1467, 569, 17, fc="white", ec="none", zorder=5)
rrect(m, 1244, 449, 1303, 472, 11, fc="white", ec="#BBBBBB", lw=1, zorder=5.1)
m.text(1273.7, 460, "Driver", fontsize=10.1, color="#333333", ha="center", va="center", zorder=5.2)
m.text(1244, 489, "Driver John Doe", fontsize=10.1, color="#333333", va="center", zorder=5.2)
for y, t in zip([507.5, 527.5, 546.5], ["Vehicle registration:", "Speed: 60 km / h", "Time: 07/07/2025 18:28"]):
    m.plot([1244.5], [y], "o", ms=3.5, color="#222222", zorder=5.2)
    m.text(1255.7, y, t, fontsize=10.1, color="#333333", va="center", zorder=5.2)
clip = FancyBboxPatch((1014, 136.8), 759, 628.2, boxstyle="round,pad=30,rounding_size=30", transform=m.transData, fc="none", ec="none")
for art in m.get_children():
    art.set_clip_path(clip)
    art.set_clip_on(True)

for x, c, lab, lx in [(1088.5, "#0BD235", "Moving", 1109), (1304, "#EF5A5A", "Stopped", 1325), (1487, "#D5D5D5", "Stopped for more than 2 hours", 1507)]:
    top.add_patch(Circle((x, 846), 9.5, fc=c, ec="none"))
    top.text(lx, 849, lab, fontsize=11.5, color="#5f5f5f", va="center")

rrect(top, 1.5, 1.5, W - 1.5, H - 1.5, 30, fc="none", ec=G, lw=2.2)

fig.savefig("out.png", dpi=100, facecolor="white")
